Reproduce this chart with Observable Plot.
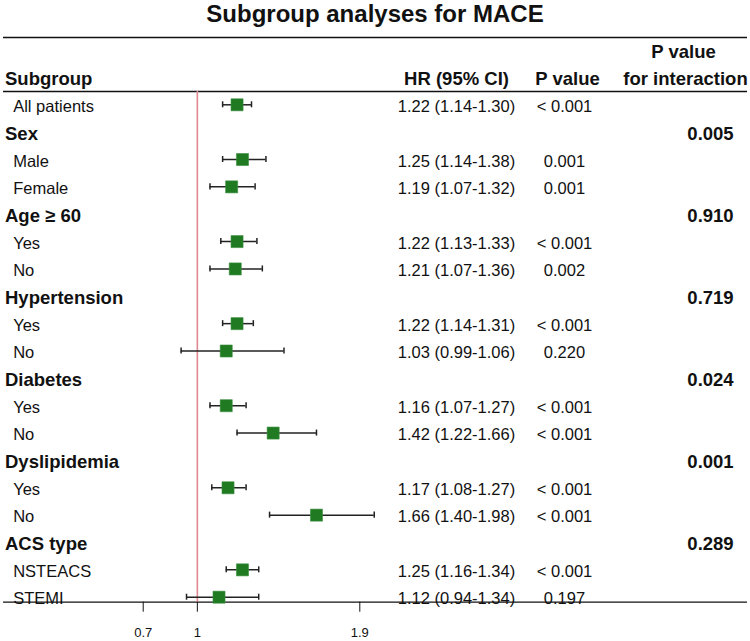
<!DOCTYPE html>
<html>
<head>
<meta charset="utf-8">
<script src="https://cdn.jsdelivr.net/npm/d3@7"></script>
<script src="https://cdn.jsdelivr.net/npm/@observablehq/plot@0.6"></script>
<style>
  html, body { margin: 0; padding: 0; background: #ffffff; }
  #title { font: bold 24px "Liberation Sans", Arial, sans-serif; color: #111; text-align: center; height: 28px; line-height: 28px; width: 750px; }
  #chart svg { display: block; }
</style>
</head>
<body>
<div id="title">Subgroup analyses for MACE</div>
<div id="chart"></div>
<script>
// ---- data ----
const labels = ["All patients", "Sex", "Male", "Female", "Age ≥ 60", "Yes", "No", "Hypertension", "Yes", "No", "Diabetes", "Yes", "No", "Dyslipidemia", "Yes", "No", "ACS type", "NSTEACS", "STEMI"];
const isGroup = [false, true, false, false, true, false, false, true, false, false, true, false, false, true, false, false, true, false, false];
// values as drawn in the plot
const hr = [1.22, null, 1.25, 1.19, null, 1.22, 1.21, null, 1.22, 1.16, null, 1.16, 1.42, null, 1.17, 1.66, null, 1.25, 1.12];
const lo = [1.14, null, 1.14, 1.07, null, 1.13, 1.07, null, 1.14, 0.91, null, 1.07, 1.22, null, 1.08, 1.40, null, 1.16, 0.94];
const hi = [1.30, null, 1.38, 1.32, null, 1.33, 1.36, null, 1.31, 1.48, null, 1.27, 1.66, null, 1.27, 1.98, null, 1.34, 1.34];
const hrText = ["1.22 (1.14-1.30)", "", "1.25 (1.14-1.38)", "1.19 (1.07-1.32)", "", "1.22 (1.13-1.33)", "1.21 (1.07-1.36)", "", "1.22 (1.14-1.31)", "1.03 (0.99-1.06)", "", "1.16 (1.07-1.27)", "1.42 (1.22-1.66)", "", "1.17 (1.08-1.27)", "1.66 (1.40-1.98)", "", "1.25 (1.16-1.34)", "1.12 (0.94-1.34)"];
const pText = ["< 0.001", "", "0.001", "0.001", "", "< 0.001", "0.002", "", "< 0.001", "0.220", "", "< 0.001", "< 0.001", "", "< 0.001", "< 0.001", "", "< 0.001", "0.197"];
const pInteraction = ["", "0.005", "", "", "0.910", "", "", "0.719", "", "", "0.024", "", "", "0.001", "", "", "0.289", "", ""];
const xTicks = [0.7, 1, 1.9];
const headers = ["Subgroup", "HR (95% CI)", "P value", "P value", "for interaction"];

// ---- build ----
const rows = labels.map((label, i) => ({
  i, label, group: isGroup[i], hr: hr[i], lo: lo[i], hi: hi[i],
  hrText: hrText[i], p: pText[i], pInt: pInteraction[i]
}));
const est = rows.filter(d => d.hr != null);
const groupRows = rows.filter(d => d.group);
const itemRows = rows.filter(d => !d.group);

const FONT = '"Liberation Sans", Arial, sans-serif';
const INK = "#111";
const BODY = 16.5, BOLD = 18.5;

const chart = Plot.plot({
  width: 750,
  height: 613,
  marginLeft: 3,
  marginRight: 3,
  marginTop: 63,
  marginBottom: 39.3,
  style: { fontFamily: FONT, color: INK, background: "#ffffff", overflow: "visible" },
  x: { domain: [0.7, 1.9], range: [142.7, 359.3] },
  y: { domain: [0, 18], range: [76.3, 568.7], axis: null },
  marks: [
    // header rules and axis line
    Plot.ruleY([-2.46, -0.486], { stroke: INK, strokeWidth: 1.5 }),
    Plot.ruleY([18.183], { stroke: INK, strokeWidth: 1.2 }),
    // reference line at HR = 1
    Plot.ruleX([1], { y1: -0.486, y2: 18.183, stroke: "#e08890", strokeWidth: 1.6 }),
    // confidence intervals
    Plot.ruleY(est, { y: "i", x1: "lo", x2: "hi", stroke: "#222", strokeWidth: 1.5 }),
    Plot.ruleX(est, { x: "lo", y1: d => d.i - 0.11, y2: d => d.i + 0.11, stroke: "#222", strokeWidth: 1.5 }),
    Plot.ruleX(est, { x: "hi", y1: d => d.i - 0.11, y2: d => d.i + 0.11, stroke: "#222", strokeWidth: 1.5 }),
    // point estimates
    Plot.dot(est, { x: "hr", y: "i", symbol: "square", r: 6.8, fill: "#1f7a22", stroke: "#3d8f40", strokeWidth: 0.6 }),
    // axis
    Plot.axisX({ ticks: xTicks, tickFormat: d => String(d), tickSize: 10, tickPadding: 16, fontSize: 13, label: null, stroke: INK, fill: INK }),
    // column headers
    Plot.text([headers[0]], { y: -1, frameAnchor: "left", dx: 1.5, dy: 2, textAnchor: "start", fontSize: BOLD, fontWeight: "bold", fill: INK }),
    Plot.text([headers[1]], { y: -1, frameAnchor: "left", dx: 453, dy: 2, textAnchor: "middle", fontSize: BOLD, fontWeight: "bold", fill: INK }),
    Plot.text([headers[2]], { y: -1, frameAnchor: "left", dx: 564, dy: 2, textAnchor: "middle", fontSize: BOLD, fontWeight: "bold", fill: INK }),
    Plot.text([headers[3]], { y: -2, frameAnchor: "left", dx: 680, dy: 2, textAnchor: "middle", fontSize: BOLD, fontWeight: "bold", fill: INK }),
    Plot.text([headers[4]], { y: -1, frameAnchor: "left", dx: 682, dy: 2, textAnchor: "middle", fontSize: BOLD, fontWeight: "bold", fill: INK }),
    // row labels
    Plot.text(groupRows, { y: "i", text: "label", frameAnchor: "left", dx: 1.5, dy: 2, textAnchor: "start", fontSize: BOLD, fontWeight: "bold", fill: INK }),
    Plot.text(itemRows, { y: "i", text: "label", frameAnchor: "left", dx: 9.7, dy: 2, textAnchor: "start", fontSize: BODY, fill: INK }),
    // value columns
    Plot.text(rows, { y: "i", text: "hrText", frameAnchor: "left", dx: 453, dy: 2, textAnchor: "middle", fontSize: BODY, fill: INK }),
    Plot.text(rows, { y: "i", text: "p", frameAnchor: "left", dx: 561, dy: 2, textAnchor: "middle", fontSize: BODY, fill: INK }),
    Plot.text(rows, { y: "i", text: "pInt", frameAnchor: "left", dx: 707, dy: 2, textAnchor: "middle", fontSize: BOLD, fontWeight: "bold", fill: INK })
  ]
});
document.getElementById("chart").appendChild(chart);
</script>
</body>
</html>
